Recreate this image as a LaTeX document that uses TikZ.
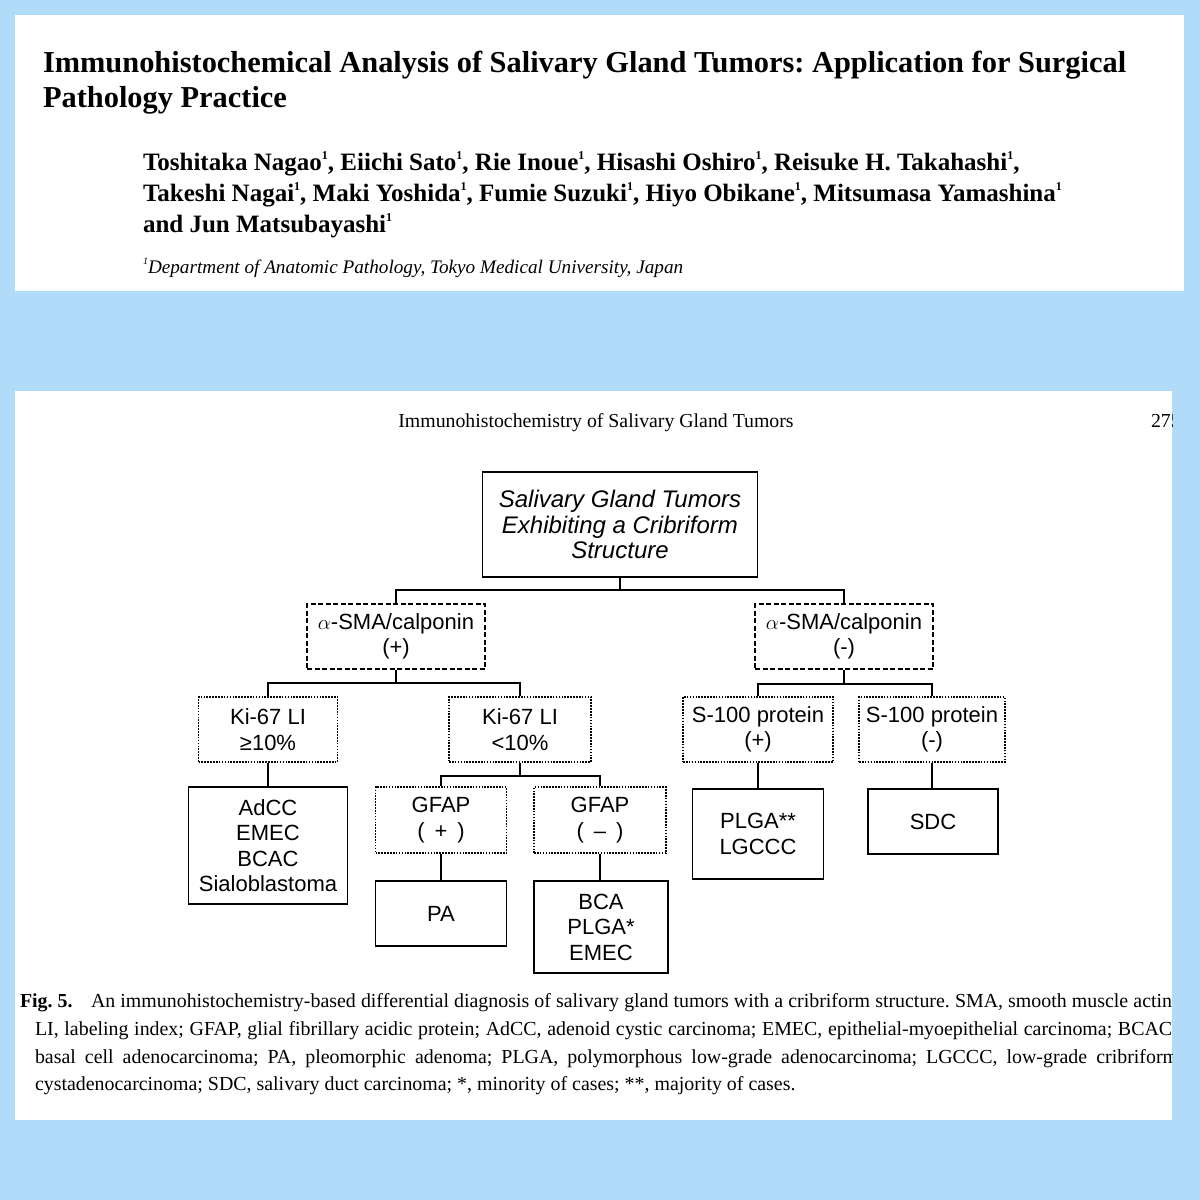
\documentclass[tikz,border=0pt]{standalone}
\usepackage{fontspec}
\setmainfont{Liberation Serif}
\newfontfamily\arialf{Liberation Sans}
\usetikzlibrary{calc}
\definecolor{bgblue}{RGB}{176,220,250}
\newcommand{\fsz}[2]{\fontsize{#1}{#2}\selectfont}
\newcommand{\affmark}[1]{\raisebox{0.42em}{\fsz{#1}{#1}1}}
\frenchspacing
\tikzset{
  txt/.style={inner sep=0pt, outer sep=0pt},
  treebox/.style={draw, line width=1.9pt, inner sep=0pt, align=center, font=\arialf\fsz{22}{25.5}},
  solidbox/.style={treebox},
  dashbox/.style={treebox, line width=1.7pt, dash pattern=on 5pt off 2.5pt},
  dotbox/.style={treebox, line width=1.7pt, dash pattern=on 1.6pt off 1.3pt},
  conn/.style={line width=2pt},
}
\begin{document}
\begin{tikzpicture}[x=1pt,y=-1pt]
\fill[bgblue] (0,0) rectangle (1200,1200);
\useasboundingbox (0,0) rectangle (1200,1200);
\fill[white] (15,15) rectangle (1184,291);
\fill[white] (15,391) rectangle (1172,1120);

% ---- top panel ----
\node[txt, anchor=base west, font=\bfseries\fsz{30.4}{35}] (title1) at (43,72)
  {Immunohistochemical Analysis of Salivary Gland Tumors: Application for Surgical};
\node[txt, anchor=base west, font=\bfseries\fsz{30.4}{35}] (title2) at (43,107)
  {Pathology Practice};
\node[txt, anchor=base west, font=\bfseries\fsz{25}{29}] (auth1) at (143,170)
  {Toshitaka Nagao\affmark{12}, Eiichi Sato\affmark{12}, Rie Inoue\affmark{12}, Hisashi Oshiro\affmark{12}, Reisuke H. Takahashi\affmark{12},};
\node[txt, anchor=base west, font=\bfseries\fsz{25}{29}] (auth2) at (143,201)
  {Takeshi Nagai\affmark{12}, Maki Yoshida\affmark{12}, Fumie Suzuki\affmark{12}, Hiyo Obikane\affmark{12}, Mitsumasa Yamashina\affmark{12}};
\node[txt, anchor=base west, font=\bfseries\fsz{25}{29}] (auth3) at (143,232)
  {and Jun Matsubayashi\affmark{12}};
\node[txt, anchor=base west, font=\itshape\fsz{19.2}{22}] (affil) at (143,273)
  {\affmark{10}Department of Anatomic Pathology, Tokyo Medical University, Japan};

% ---- bottom panel ----
\begin{scope}
\clip (15,391) rectangle (1172,1120);
\node[txt, anchor=base, font=\fsz{19.8}{23}] (header) at (596,427)
  {Immunohistochemistry of Salivary Gland Tumors};
\node[txt, anchor=base west, font=\fsz{19.8}{23}] (pagenum) at (1151,427) {275};

\node[txt, anchor=base west, font=\bfseries\fsz{19.9}{23}] (figlab) at (20,1007) {Fig. 5.};
\node[txt, anchor=base west, font=\fsz{19.9}{23}] (cap1) at (91,1007)
  {\makebox[1081pt][s]{An immunohistochemistry-based differential diagnosis of salivary gland tumors with a cribriform structure. SMA, smooth muscle actin}};
\node[txt, anchor=base west, font=\fsz{19.9}{23}] (cap2) at (35,1035)
  {\makebox[1137pt][s]{LI, labeling index; GFAP, glial fibrillary acidic protein; AdCC, adenoid cystic carcinoma; EMEC, epithelial-myoepithelial carcinoma; BCAC}};
\node[txt, anchor=base west, font=\fsz{19.9}{23}] (cap3) at (35,1063)
  {\makebox[1143pt][s]{basal cell adenocarcinoma; PA, pleomorphic adenoma; PLGA, polymorphous low-grade adenocarcinoma; LGCCC, low-grade cribriform}};
\node[txt, anchor=base west, font=\fsz{19.9}{23}] (cap4) at (35,1090)
  {cystadenocarcinoma; SDC, salivary duct carcinoma; *, minority of cases; **, majority of cases.};
\end{scope}

% ---- tree ----
\node[solidbox, minimum width=275pt, minimum height=105pt, font=\arialf\itshape\fsz{24}{25.5}] (root) at (620,524.5)
  {Salivary Gland Tumors\\Exhibiting a Cribriform\\Structure};
\node[dashbox, minimum width=178pt, minimum height=65pt] (smaP) at (396,636.5) {$\alpha$-SMA/calponin\\(+)};
\node[dashbox, minimum width=178pt, minimum height=65pt] (smaN) at (844,636.5) {$\alpha$-SMA/calponin\\(-)};
\node[dotbox, minimum width=139pt, minimum height=65pt] (kiHi) at (268,729.5) {Ki-67 LI\\≥10\%};
\node[dotbox, minimum width=142pt, minimum height=65pt] (kiLo) at (520,729.5) {Ki-67 LI\\<10\%};
\node[dotbox, minimum width=150pt, minimum height=65pt] (s1P) at (758,729.5) {S-100 protein\\(+)};
\node[dotbox, minimum width=146pt, minimum height=65pt] (s1N) at (932,729.5) {S-100 protein\\(-)};
\node[solidbox, minimum width=159pt, minimum height=117pt] (adcc) at (268,845.5) {AdCC\\EMEC\\BCAC\\Sialoblastoma};
\node[dotbox, minimum width=131pt, minimum height=66pt] (gfP) at (441,820) {GFAP\\(\hspace{10pt}+\hspace{10pt})};
\node[dotbox, minimum width=132pt, minimum height=66pt] (gfN) at (600,820) {GFAP\\(\hspace{10pt}\textendash\hspace{10pt})};
\node[solidbox, minimum width=131pt, minimum height=65pt] (pa) at (441,913.5) {PA};
\node[solidbox, minimum width=134pt, minimum height=92pt] (bca) at (601,927) {BCA\\PLGA*\\EMEC};
\node[solidbox, minimum width=131pt, minimum height=90pt] (plga) at (758,834) {PLGA**\\LGCCC};
\node[solidbox, minimum width=130pt, minimum height=65pt] (sdc) at (933,821.5) {SDC};

\draw[conn] (root.south) -- ++(0,12) coordinate (b1);
\draw[conn] (smaP.north) |- (b1) -| (smaN.north);
\draw[conn] (smaP.south) -- ++(0,13) coordinate (b2);
\draw[conn] (kiHi.north) |- (b2) -| (kiLo.north);
\draw[conn] (smaN.south) -- ++(0,14) coordinate (b3);
\draw[conn] (s1P.north) |- (b3) -| (s1N.north);
\draw[conn] (kiHi.south) -- (adcc.north);
\draw[conn] (kiLo.south) -- ++(0,13) coordinate (b4);
\draw[conn] (gfP.north) |- (b4) -| (gfN.north);
\draw[conn] (gfP.south) -- (pa.north);
\draw[conn] (gfN.south) -- (gfN.south |- bca.north);
\draw[conn] (s1P.south) -- (s1P.south |- plga.north);
\draw[conn] (s1N.south) -- (s1N.south |- sdc.north);
\end{tikzpicture}
\end{document}
